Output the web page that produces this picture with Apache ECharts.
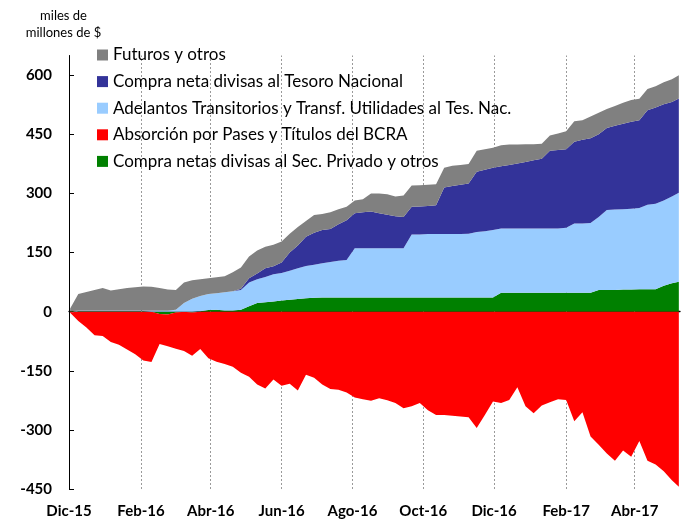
<!DOCTYPE html>
<html>
<head>
<meta charset="utf-8">
<script src="https://cdn.jsdelivr.net/npm/echarts@6/dist/echarts.min.js"></script>
<style>
  html, body { margin: 0; padding: 0; background: #fff; }
  #chart { width: 686px; height: 520px; }
</style>
</head>
<body>
<div id="chart"></div>
<script>
// weekly samples (miles de millones de $)
const dates = [
  '2015-12-02','2015-12-09','2015-12-16','2015-12-23','2015-12-30',
  '2016-01-06','2016-01-13','2016-01-20','2016-01-27','2016-02-03',
  '2016-02-10','2016-02-17','2016-02-24','2016-03-02','2016-03-09',
  '2016-03-16','2016-03-23','2016-03-30','2016-04-06','2016-04-13',
  '2016-04-20','2016-04-27','2016-05-04','2016-05-11','2016-05-18',
  '2016-05-25','2016-06-01','2016-06-08','2016-06-15','2016-06-22',
  '2016-06-29','2016-07-06','2016-07-13','2016-07-20','2016-07-27',
  '2016-08-03','2016-08-10','2016-08-17','2016-08-24','2016-08-31',
  '2016-09-07','2016-09-14','2016-09-21','2016-09-28','2016-10-05',
  '2016-10-12','2016-10-19','2016-10-26','2016-11-02','2016-11-09',
  '2016-11-16','2016-11-23','2016-11-30','2016-12-07','2016-12-14',
  '2016-12-21','2016-12-28','2017-01-04','2017-01-11','2017-01-18',
  '2017-01-25','2017-02-01','2017-02-08','2017-02-15','2017-02-22',
  '2017-03-01','2017-03-08','2017-03-15','2017-03-22','2017-03-29',
  '2017-04-05','2017-04-12','2017-04-19','2017-04-26','2017-05-03',
  '2017-05-09'
];

const futuros = [
  7, 42, 47, 52, 57, 51, 54, 57, 59, 61,
  60, 57, 53, 50, 52, 47, 42, 40, 40, 41,
  48, 54, 55, 58, 55, 55, 53, 48, 47, 40,
  45, 41, 42, 38, 34, 32, 33, 46, 50, 52,
  50, 55, 54, 54, 54, 53, 50, 51, 50, 50,
  53, 52, 51, 53, 52, 48, 45, 41, 38, 39,
  42, 46, 52, 50, 55, 55, 48, 50, 53, 55,
  54, 54, 54, 56, 58, 59
];

const tesoro = [
  0, 0, 0, 0, 0, 0, 0, 0, 0, 0,
  0, 0, 0, 0, 0, 0, 0, 0, 0, 0,
  0, 3, 11, 15, 22, 20, 27, 46, 58, 74,
  81, 84, 84, 93, 101, 89, 91, 93, 89, 85,
  81, 79, 70, 71, 71, 73, 118, 122, 125, 127,
  153, 156, 158, 158, 161, 165, 169, 173, 177, 197,
  199, 199, 207, 212, 215, 210, 208, 213, 217, 221,
  223, 240, 244, 244, 240, 239
];

const adelantos = [
  0, 2, 2, 2, 2, 2, 2, 2, 2, 2,
  3, 3, 3, 5, 22, 33, 39, 41, 42, 46,
  49, 50, 60, 60, 64, 69, 70, 74, 78, 82,
  84, 87, 90, 93, 95, 125, 125, 125, 125, 125,
  125, 125, 160, 160, 161, 161, 161, 161, 161, 162,
  166, 168, 171, 163, 163, 163, 163, 163, 163, 163,
  163, 165, 176, 176, 177, 185, 203, 204, 204, 205,
  206, 214, 217, 216, 220, 226
];

const absorcion = [
  -3, -24, -40, -60, -62, -77, -84, -96, -108, -124,
  -128, -76, -81, -92, -100, -110, -95, -118, -127, -133,
  -140, -155, -165, -185, -195, -172, -188, -183, -200, -160,
  -168, -185, -196, -198, -205, -218, -222, -226, -220, -225,
  -232, -245, -240, -232, -250, -262, -262, -264, -266, -268,
  -295, -262, -228, -232, -224, -192, -240, -258, -238, -230,
  -222, -224, -278, -255, -317, -338, -360, -378, -352, -368,
  -328, -378, -388, -405, -428, -444
];

const privado = [
  1, 1, 1, 1, 1, 1, 1, 1, 1, 1,
  0, -6, -7, -2, 0, -2, 1, 4, 5, 3,
  3, 5, 14, 22, 24, 26, 28, 30, 32, 34,
  35, 36, 36, 36, 36, 36, 36, 36, 36, 36,
  36, 36, 36, 36, 36, 36, 36, 36, 36, 36,
  36, 36, 36, 48, 48, 48, 48, 48, 48, 48,
  48, 48, 48, 48, 48, 55, 55, 55, 56, 56,
  57, 57, 57, 66, 72, 76
];

const tickDates = ['2015-12-01', '2016-02-01', '2016-04-01', '2016-06-01', '2016-08-01',
  '2016-10-01', '2016-12-01', '2017-02-01', '2017-04-01'];
const tickLabels = ['Dic-15', 'Feb-16', 'Abr-16', 'Jun-16', 'Ago-16', 'Oct-16', 'Dic-16', 'Feb-17', 'Abr-17'];
const yTicks = [-450, -300, -150, 0, 150, 300, 450, 600];

const FONT = 'Lato, "Liberation Sans", sans-serif';

function toTime(s) {
  const p = s.split('-');
  return new Date(+p[0], +p[1] - 1, +p[2]).getTime();
}
const tickTimes = tickDates.map(toTime);
const times = dates.map(toTime);
const xMin = toTime('2015-12-01');
const xMax = toTime('2017-05-10');

function areaSeries(name, color, vals, extra) {
  return Object.assign({
    name: name,
    type: 'line',
    stack: 'total',
    xAxisIndex: 0,
    data: vals.map((v, i) => [times[i], v]),
    symbol: 'none',
    lineStyle: { width: 0 },
    areaStyle: { color: color, opacity: 1 },
    itemStyle: { color: color },
    emphasis: { disabled: true },
    silent: true,
    z: 2
  }, extra || {});
}

const chart = echarts.init(document.getElementById('chart'));

chart.setOption({
  animation: false,
  backgroundColor: '#fff',
  title: {
    text: 'miles de\nmillones de $',
    left: 58.5,
    top: 2,
    textAlign: 'center',
    textStyle: { fontFamily: FONT, fontSize: 13, fontWeight: 'normal', color: '#000', lineHeight: 17 }
  },
  legend: {
    orient: 'vertical',
    left: 97,
    top: 46.5,
    padding: 0,
    itemWidth: 11,
    itemHeight: 11,
    itemGap: 9.6,
    icon: 'rect',
    selectedMode: false,
    data: ['Futuros y otros', 'Compra neta divisas al Tesoro Nacional',
      'Adelantos Transitorios y Transf. Utilidades al Tes. Nac.',
      'Absorción por Pases y Títulos del BCRA', 'Compra netas divisas al Sec. Privado y otros'],
    textStyle: { fontFamily: FONT, fontSize: 17, color: '#000', lineHeight: 16 }
  },
  grid: { left: 69, right: 6, top: 55.5, bottom: 31 },
  xAxis: [
    {
      // time axis carrying the series, drawn invisibly
      type: 'time',
      min: xMin,
      max: xMax,
      axisLine: { show: false, onZero: false },
      axisTick: { show: false },
      axisLabel: { show: false },
      splitLine: { show: false }
    },
    {
      // month labels at the bottom
      type: 'value',
      min: xMin,
      max: xMax,
      position: 'bottom',
      axisLine: { show: false, onZero: false },
      axisTick: { show: false },
      splitLine: { show: false },
      axisLabel: {
        customValues: tickTimes,
        fontFamily: FONT,
        fontSize: 15,
        fontWeight: 'bold',
        color: '#000',
        margin: 15,
        formatter: (v) => {
          const i = tickTimes.indexOf(+v);
          return i >= 0 ? tickLabels[i] : '';
        }
      }
    },
    {
      // black zero line with upward ticks
      type: 'value',
      min: xMin,
      max: xMax,
      position: 'bottom',
      axisLine: { show: true, onZero: true, lineStyle: { color: '#000', width: 1.3 } },
      axisTick: { show: true, inside: true, length: 5, customValues: tickTimes, lineStyle: { color: '#000' } },
      axisLabel: { show: false },
      splitLine: { show: false }
    }
  ],
  yAxis: {
    type: 'value',
    min: -450,
    max: 650,
    interval: 150,
    axisLine: { show: true, onZero: false, lineStyle: { color: '#000', width: 1 } },
    axisTick: { show: true, inside: true, length: 5, customValues: yTicks, lineStyle: { color: '#000' } },
    splitLine: { show: false },
    axisLabel: {
      customValues: yTicks,
      fontFamily: FONT,
      fontSize: 15,
      fontWeight: 'bold',
      color: '#000',
      margin: 17
    }
  },
  series: [
    areaSeries('Compra netas divisas al Sec. Privado y otros', '#008000', privado, {
      markLine: {
        silent: true,
        symbol: 'none',
        z: 1,
        label: { show: false },
        lineStyle: { color: '#9a9a9a', width: 1, type: [2, 2] },
        data: tickTimes.slice(1).map(t => ({ xAxis: t }))
      }
    }),
    areaSeries('Absorción por Pases y Títulos del BCRA', '#ff0000', absorcion),
    areaSeries('Adelantos Transitorios y Transf. Utilidades al Tes. Nac.', '#99ccff', adelantos),
    areaSeries('Compra neta divisas al Tesoro Nacional', '#333399', tesoro),
    areaSeries('Futuros y otros', '#808080', futuros)
  ]
});
</script>
</body>
</html>
